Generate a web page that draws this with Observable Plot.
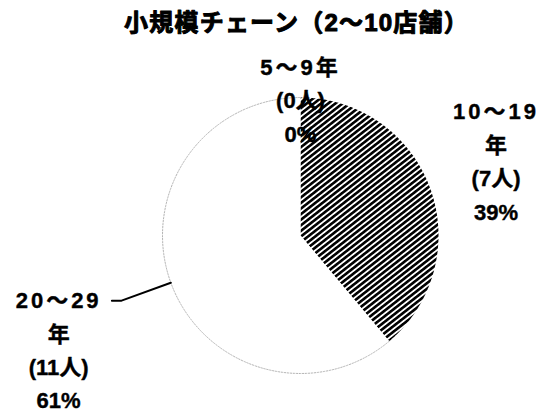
<!DOCTYPE html>
<html><head><meta charset="utf-8">
<script src="https://cdn.jsdelivr.net/npm/d3@7"></script>
<script src="https://cdn.jsdelivr.net/npm/@observablehq/plot@0.6"></script>
<style>
html,body{margin:0;padding:0;background:#fff;}
#chart{width:544px;height:412px;}
</style></head><body><div id="chart"></div>
<script>
// ---- data ----
const title = "小規模チェーン（2～10店舗）";
const categories = ["5～9年", "10～19年", "20～29年"];
const counts = [0, 7, 11];
const unit = "人";

// ---- styles / layout (not data) ----
const sliceFills = ["white", "url(#hatch)", "white"];
const R = 138, cx = 300, cy = 235;
const labelRadius = [1.0, 1.5, 1.95];
const labelNudge = [[0, 0], [1, -6], [11, 20]]; // px
const leaderSlice = 2;
const fontStack = "'Liberation Sans', 'Noto Sans CJK JP', sans-serif";

const total = d3.sum(counts);
const arcs = d3.pie().sort(null).value(d => d)(counts); // 0 = 12 o'clock, clockwise
const polar = (r, a) => ({x: r * Math.sin(a), y: r * Math.cos(a)});

const slices = [];
const outline = [];
arcs.forEach((a, i) => {
  if (counts[i] === 0) return;
  const n = Math.max(2, Math.ceil((a.endAngle - a.startAngle) / (Math.PI / 360)));
  slices.push({cat: categories[i], x: 0, y: 0});
  for (let k = 0; k <= n; k++) {
    const t = a.startAngle + (a.endAngle - a.startAngle) * k / n;
    const p = polar(1, t);
    slices.push({cat: categories[i], ...p});
    if (sliceFills[i] === "white") outline.push({cat: categories[i], ...p});
  }
  slices.push({cat: categories[i], x: 0, y: 0});
});

const labels = arcs.map((a, i) => {
  const mid = (a.startAngle + a.endAngle) / 2;
  const pct = Math.round(counts[i] / total * 100);
  const cat = categories[i];
  const name = cat.length > 4 ? cat.slice(0, -1) + "\n" + cat.slice(-1) : cat;
  const p = polar(labelRadius[i], mid);
  return {
    text: `${name}\n(${counts[i]}${unit})\n${pct}%`,
    x: p.x + labelNudge[i][0] / R,
    y: p.y - labelNudge[i][1] / R
  };
});

const lm = (arcs[leaderSlice].startAngle + arcs[leaderSlice].endAngle) / 2;
const e0 = polar(1.0, lm), e1 = polar(1.38, lm);
const leader = [e0, e1, {x: e1.x - 0.07, y: e1.y}];

const plot = Plot.plot({
  width: 544, height: 412, margin: 0,
  x: {domain: [-1, 1], range: [cx - R, cx + R], axis: null},
  y: {domain: [-1, 1], range: [cy + R, cy - R], axis: null},
  color: {domain: categories, range: sliceFills},
  style: {fontFamily: fontStack, background: "white", color: "black"},
  marks: [
    Plot.line(slices, {x: "x", y: "y", z: "cat", fill: "cat", stroke: "none"}),
    Plot.line(outline, {x: "x", y: "y", z: "cat", stroke: "#b4b4b4", strokeWidth: 1, strokeDasharray: "1.5,1.5"}),
    Plot.line(leader, {x: "x", y: "y", stroke: "black", strokeWidth: 2}),
    Plot.text(labels, {x: "x", y: "y", text: "text", fontSize: 22, fontWeight: "bold",
      lineHeight: 1.52, lineAnchor: "middle", textAnchor: "middle", fill: "black",
      stroke: "black", strokeWidth: 0.4}),
    Plot.text([title], {frameAnchor: "top", dx: 24, dy: 23, fontSize: 24, fontWeight: "bold",
      lineAnchor: "middle", fill: "black", stroke: "black", strokeWidth: 1})
  ]
});

const ns = "http://www.w3.org/2000/svg";
const defs = document.createElementNS(ns, "defs");
defs.innerHTML = '<pattern id="hatch" patternUnits="userSpaceOnUse" width="10" height="4.4" patternTransform="rotate(-38)">' +
  '<rect width="10" height="4.4" fill="white"/><rect width="10" height="2.6" fill="black"/></pattern>';
plot.insertBefore(defs, plot.firstChild);
// wider tracking on the year-range lines, as in the reference
plot.querySelectorAll("tspan").forEach(t => {
  if (t.textContent.includes("～")) t.style.letterSpacing = "3px";
});
plot.querySelectorAll("text").forEach(t => {
  if (t.textContent === title) t.style.letterSpacing = "1.2px";
});
document.getElementById("chart").appendChild(plot);
</script>
</body></html>
